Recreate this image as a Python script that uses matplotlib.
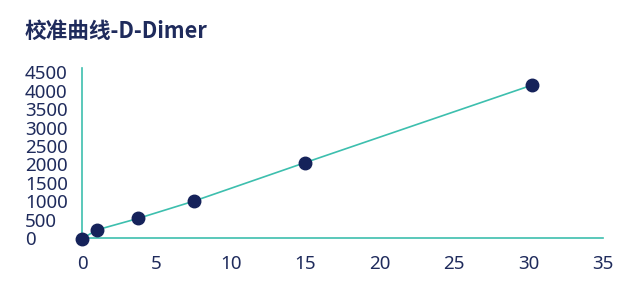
import matplotlib

matplotlib.use("Agg")

import matplotlib.pyplot as plt

# calibration data
concentration = [0, 1, 3.75, 7.5, 15, 30.2]
signal = [-20, 220, 530, 1000, 2050, 4150]
x_ticks = [0, 5, 10, 15, 20, 25, 30, 35]
y_ticks = [0, 500, 1000, 1500, 2000, 2500, 3000, 3500, 4000, 4500]
title = "校准曲线-D-Dimer"

TEAL = "#3dbfae"
NAVY = "#15225a"
TEXT = "#1f2b5c"

plt.rcParams["font.family"] = ["Noto Sans", "DejaVu Sans"]

fig = plt.figure(figsize=(6.36, 2.88), dpi=100)
ax = fig.add_axes([82 / 636, 1 - 238 / 288, (603 - 82) / 636, (238 - 68) / 288])

ax.plot(concentration, signal, color=TEAL, linewidth=1.2, zorder=2, clip_on=False)
ax.plot(concentration, signal, linestyle="none", marker="o", markersize=9,
        color=NAVY, zorder=3, clip_on=False)

ax.set_xlim(0, 35)
ax.set_ylim(0, 4620)
ax.set_xticks(x_ticks)
ax.set_yticks(y_ticks)

for side in ("top", "right"):
    ax.spines[side].set_visible(False)
for side in ("left", "bottom"):
    ax.spines[side].set_color(TEAL)
    ax.spines[side].set_linewidth(1.2)

ax.tick_params(axis="both", length=0, labelsize=13.5, labelcolor=TEXT)
ax.tick_params(axis="x", pad=12)
ax.tick_params(axis="y", pad=41)
for label in ax.get_yticklabels():
    label.set_horizontalalignment("left")

fig.text(25 / 636, 1 - 31 / 288, title, fontsize=15.6, fontweight="bold",
         color=TEXT, va="center", ha="left",
         family=["Noto Sans CJK SC", "DejaVu Sans"])

fig.savefig("out.png", dpi=100)
